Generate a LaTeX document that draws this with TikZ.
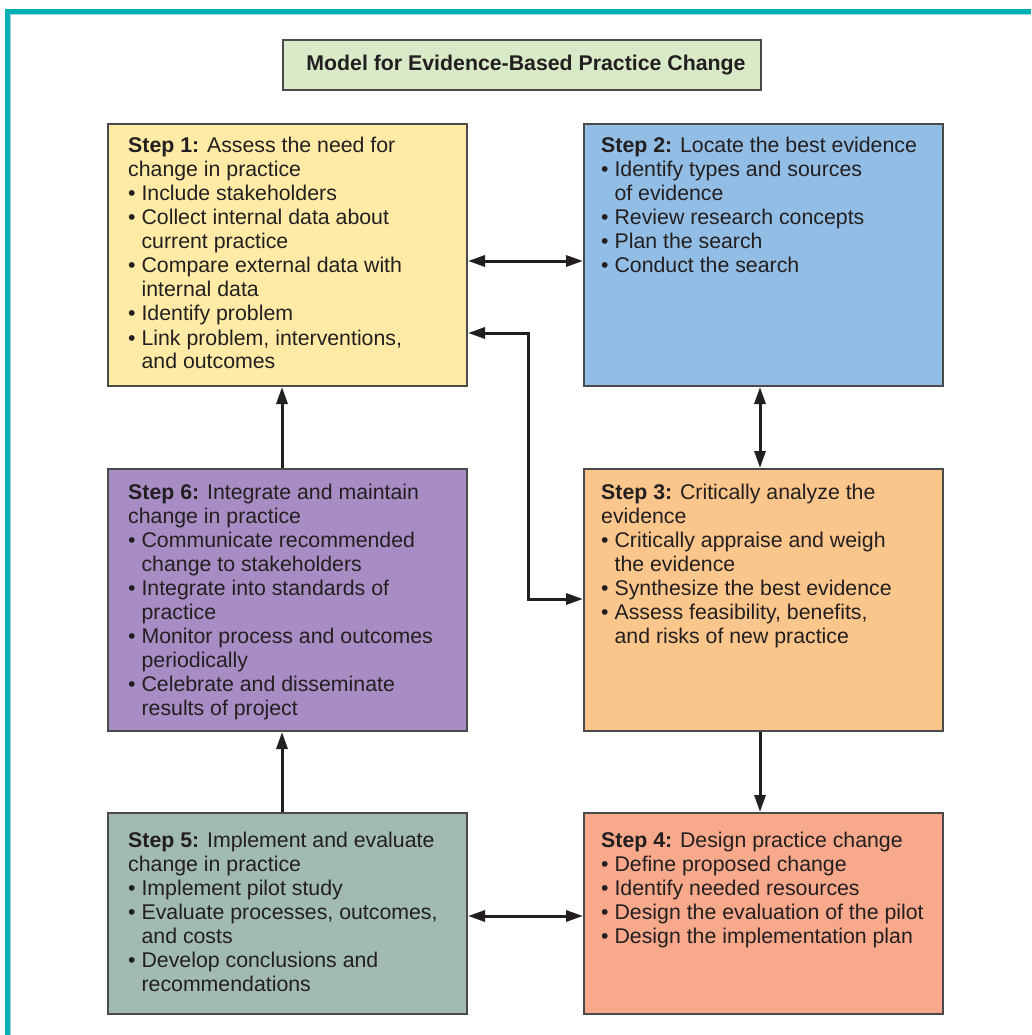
\documentclass[tikz,border=0pt]{standalone}
\usepackage{fontspec}
\setmainfont{Liberation Sans}
\usetikzlibrary{arrows.meta}

\definecolor{teal}{HTML}{00AFB3}
\definecolor{tealpale}{HTML}{9ADCDD}
\definecolor{ink}{HTML}{231F20}
\definecolor{edge}{HTML}{4A4A4A}
\definecolor{titlefill}{HTML}{D9EAC8}
\definecolor{fillA}{HTML}{FFEBA6}
\definecolor{fillB}{HTML}{92BDE5}
\definecolor{fillC}{HTML}{FBC68B}
\definecolor{fillD}{HTML}{F8A98B}
\definecolor{fillE}{HTML}{A1BAB3}
\definecolor{fillF}{HTML}{A88DC4}

\newcommand\bodyfont{\fontsize{21.3}{24}\selectfont}
\newcommand\bul{•\ }
\newcommand\ind{\hphantom{•\ }}
\newcommand\stp[1]{\textbf{Step #1:}}

\tikzset{
  stepbox/.style={draw=edge, line width=2pt, anchor=north west, inner sep=0pt,
    minimum width=359pt},
  steptext/.style={anchor=base west, inner sep=0pt, text=ink, font=\bodyfont},
  arr/.style={draw=ink, line width=3pt,
    {Triangle[length=17pt,width=11pt]}-{Triangle[length=17pt,width=11pt]}},
  arrone/.style={draw=ink, line width=3pt, -{Triangle[length=17pt,width=11pt]}},
}

\begin{document}
\begin{tikzpicture}[x=1pt,y=-1pt]
\useasboundingbox (0,0) rectangle (1031,1035);
\fill[white] (0,0) rectangle (1031,1035);

% frame along the top and left edges
\fill[teal] (5,9) rectangle (1031,14);
\fill[teal] (5,9) rectangle (10,1035);
\fill[tealpale] (10,14) rectangle (1031,15.2);
\fill[tealpale] (10,14) rectangle (11.2,1035);

% title
\node[draw=edge, line width=2pt, fill=titlefill, minimum width=478pt, minimum height=50pt,
  inner sep=0pt, text=ink, font=\bodyfont\bfseries] (title) at (522,65)
  {\hspace{8pt}Model for Evidence-Based Practice Change};

% step boxes
\node[stepbox, fill=fillA, minimum height=262pt] (s1) at (107,123) {};
\node[stepbox, fill=fillB, minimum height=262pt] (s2) at (583,123) {};
\node[stepbox, fill=fillF, minimum height=262pt] (s6) at (107,468) {};
\node[stepbox, fill=fillC, minimum height=262pt] (s3) at (583,468) {};
\node[stepbox, fill=fillE, minimum height=201pt] (s5) at (107,812) {};
\node[stepbox, fill=fillD, minimum height=201pt] (s4) at (583,812) {};

% box contents
\node[steptext] (t1) at (128,153) {\begin{tabular}[t]{@{}l@{}}
\stp{1} Assess the need for\\
change in practice\\
\bul Include stakeholders\\
\bul Collect internal data about\\
\ind current practice\\
\bul Compare external data with\\
\ind internal data\\
\bul Identify problem\\
\bul Link problem, interventions,\\
\ind and outcomes
\end{tabular}};

\node[steptext] (t2) at (601,153) {\begin{tabular}[t]{@{}l@{}}
\stp{2} Locate the best evidence\\
\bul Identify types and sources\\
\ind of evidence\\
\bul Review research concepts\\
\bul Plan the search\\
\bul Conduct the search
\end{tabular}};

\node[steptext] (t6) at (128,499) {\begin{tabular}[t]{@{}l@{}}
\stp{6} Integrate and maintain\\
change in practice\\
\bul Communicate recommended\\
\ind change to stakeholders\\
\bul Integrate into standards of\\
\ind practice\\
\bul Monitor process and outcomes\\
\ind periodically\\
\bul Celebrate and disseminate\\
\ind results of project
\end{tabular}};

\node[steptext] (t3) at (601,499) {\begin{tabular}[t]{@{}l@{}}
\stp{3} Critically analyze the\\
evidence\\
\bul Critically appraise and weigh\\
\ind the evidence\\
\bul Synthesize the best evidence\\
\bul Assess feasibility, benefits,\\
\ind and risks of new practice
\end{tabular}};

\node[steptext] (t5) at (128,847) {\begin{tabular}[t]{@{}l@{}}
\stp{5} Implement and evaluate\\
change in practice\\
\bul Implement pilot study\\
\bul Evaluate processes, outcomes,\\
\ind and costs\\
\bul Develop conclusions and\\
\ind recommendations
\end{tabular}};

\node[steptext] (t4) at (601,847) {\begin{tabular}[t]{@{}l@{}}
\stp{4} Design practice change\\
\bul Define proposed change\\
\bul Identify needed resources\\
\bul Design the evaluation of the pilot\\
\bul Design the implementation plan
\end{tabular}};

% connector guides
\coordinate (yAB) at (0,261);
\coordinate (yEF) at (0,916);
\coordinate (xR) at (760,0);
\coordinate (xL) at (282,0);
\coordinate (kneeTop) at (528,333);
\coordinate (kneeBot) at (528,599);

% connectors
\draw[arr] (s1.east |- yAB) -- (s2.west |- yAB);
\draw[arr] (s2.south -| xR) -- (s3.north -| xR);
\draw[arrone] (s3.south -| xR) -- (s4.north -| xR);
\draw[arr] (s5.east |- yEF) -- (s4.west |- yEF);
\draw[arrone] (s5.north -| xL) -- (s6.south -| xL);
\draw[arrone] (s6.north -| xL) -- (s1.south -| xL);
\draw[arr] (s1.east |- kneeTop) -- (kneeTop) -- (kneeBot) -- (s3.west |- kneeBot);
\end{tikzpicture}
\end{document}
